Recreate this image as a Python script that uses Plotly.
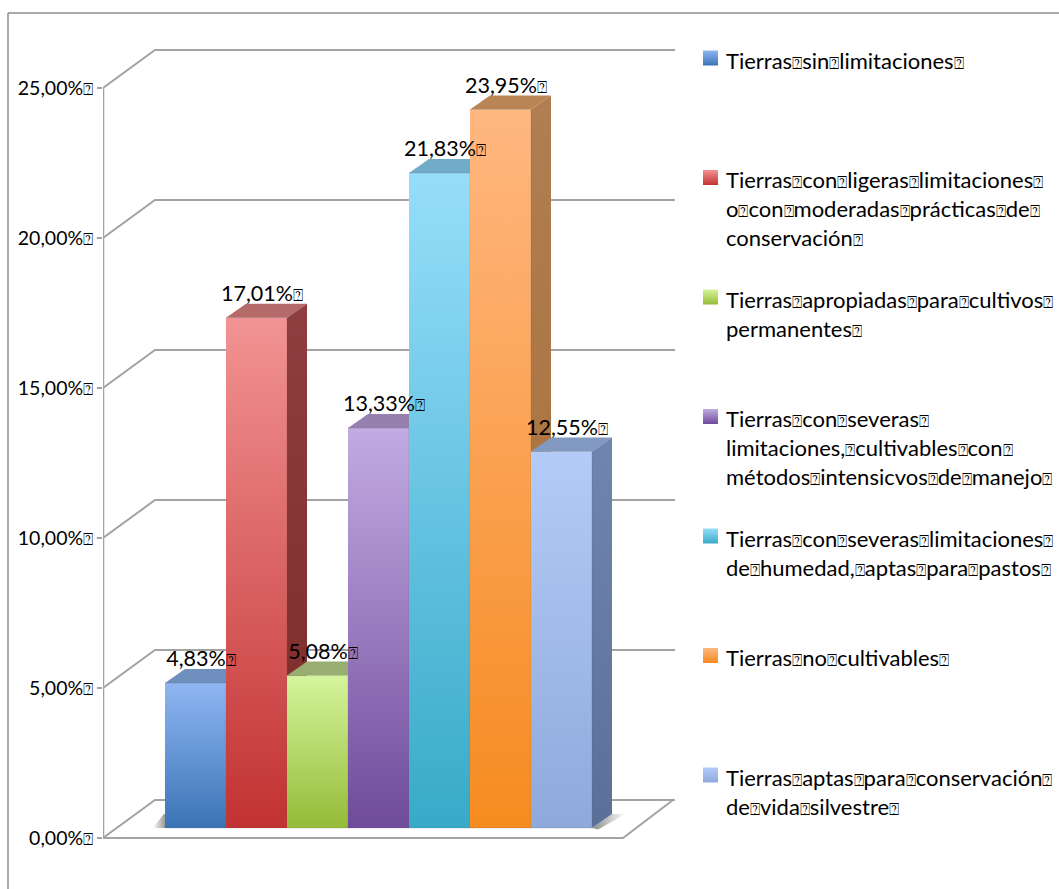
import plotly.graph_objects as go

# Land capability classes, one bar each
category_lines = [
    ["Tierras sin limitaciones"],
    ["Tierras con ligeras limitaciones", "o con moderadas prácticas de", "conservación"],
    ["Tierras apropiadas para cultivos", "permanentes"],
    ["Tierras con severas", "limitaciones, cultivables con", "métodos intensicvos de manejo"],
    ["Tierras con severas limitaciones", "de humedad, aptas para pastos"],
    ["Tierras no cultivables"],
    ["Tierras aptas para conservación", "de vida silvestre"],
]
values = [4.83, 17.01, 5.08, 13.33, 21.83, 23.95, 12.55]
value_labels = ["4,83%", "17,01%", "5,08%", "13,33%", "21,83%", "23,95%", "12,55%"]
axis_ticks = [0, 5, 10, 15, 20, 25]
axis_tick_labels = ["0,00%", "5,00%", "10,00%", "15,00%", "20,00%", "25,00%"]

# Face colours: front top, front bottom, side top, side bottom, top face
front_top = ["#8FB6F2", "#F29393", "#D6F49C", "#C2ABE2", "#96DEFA", "#FFB780", "#B3CBF7"]
front_bottom = ["#3A74B6", "#C23232", "#95BB38", "#6F4B9B", "#38AAC9", "#F68B20", "#8EA9DB"]
side_top = ["#5F7FAF", "#8E3E3E", "#7F9650", "#7D6898", "#5F9CB8", "#B07E52", "#6F86AF"]
side_bottom = ["#2F5B90", "#7C2A2A", "#6F8A2A", "#523A75", "#2C8098", "#A86C34", "#5A7099"]
top_face = ["#6F8FBF", "#B56A6A", "#98AE70", "#9680B0", "#70ACC8", "#BA8555", "#8198C0"]

W, H = 1059, 889
PLOT_L, AXIS_TOP, AXIS_BOTTOM = 103, 88, 838
PX_PER_SLOT = 61
BAR_LEFT_PX = 165
PX_PER_PCT = (AXIS_BOTTOM - AXIS_TOP) / 25
GRID = "#A3A3A3"
FONT = "Lato"
TICK_SIZE, VALUE_SIZE, LEGEND_SIZE = 19.5, 21.5, 22


def xp(px):
    """Pixel column to x-axis units (one unit is one bar slot)."""
    return (px - BAR_LEFT_PX) / PX_PER_SLOT


def yp(py):
    """Pixel row to y-axis units (percent)."""
    return (AXIS_BOTTOM - py) / PX_PER_PCT


BOX = '<span style="font-family:DejaVu Sans;font-size:17px">\u2370</span>'


def boxed(text):
    return text.replace(" ", BOX) + BOX


# Oblique projection offsets, in axis units
BAR_BASE = 10 / PX_PER_PCT
BAR_DX, BAR_DY = 20 / PX_PER_SLOT, 14 / PX_PER_PCT
WALL_DX, WALL_DY = 52 / PX_PER_SLOT, 38 / PX_PER_PCT
GRID_END = xp(675)
X0 = xp(PLOT_L)

fig = go.Figure()


def poly(xs, ys, **kw):
    fig.add_trace(go.Scatter(x=xs, y=ys, mode="lines", fill="toself", cliponaxis=False,
                             hoverinfo="skip", showlegend=False, **kw))


def vgrad(top, bottom):
    return dict(type="vertical", colorscale=[[0, bottom], [1, top]])


# Back wall and floor lines
for tick in axis_ticks:
    fig.add_trace(go.Scatter(
        x=[X0, X0 + WALL_DX, GRID_END],
        y=[tick, tick + WALL_DY, tick + WALL_DY],
        mode="lines", line=dict(color=GRID, width=2), cliponaxis=False,
        hoverinfo="skip", showlegend=False))
fig.add_trace(go.Scatter(
    x=[X0, xp(623), xp(673)], y=[0, 0, WALL_DY],
    mode="lines", line=dict(color=GRID, width=2), cliponaxis=False,
    hoverinfo="skip", showlegend=False))
# Vertical wall edge beside the tick labels
fig.add_trace(go.Scatter(
    x=[X0, X0], y=[axis_ticks[0], axis_ticks[-1]],
    mode="lines", line=dict(color=GRID, width=2.5), cliponaxis=False,
    hoverinfo="skip", showlegend=False))

# Soft floor shadow around the bar bases
n = len(values)
base = BAR_BASE
poly([-0.2, 0, 0, -0.02], [base, base, base + BAR_DY, base + BAR_DY],
     line=dict(width=0), fillgradient=dict(type="horizontal", colorscale=[[0, "#FFFFFF"], [1, "#9A9A9A"]]))
poly([n, n + BAR_DX, n + 0.55, n + 0.1], [base, base + BAR_DY, base + BAR_DY, base - 0.05],
     line=dict(width=0), fillgradient=dict(type="horizontal", colorscale=[[0, "#8A8A8A"], [1, "#FFFFFF"]]))

# Each bar: top face, side face, then the front, painted from left to right
for i, v in enumerate(values):
    l, r = float(i), float(i + 1)
    h = base + v
    poly([l, r, r + BAR_DX, l + BAR_DX], [h, h, h + BAR_DY, h + BAR_DY],
         line=dict(width=0), fillcolor=top_face[i])
    poly([r, r + BAR_DX, r + BAR_DX, r], [base, base + BAR_DY, h + BAR_DY, h],
         line=dict(width=0), fillgradient=vgrad(side_top[i], side_bottom[i]))
    poly([l, r, r, l], [base, base, h, h],
         line=dict(width=0.6, color="rgba(90,90,90,0.35)"),
         fillgradient=vgrad(front_top[i], front_bottom[i]))

# Value labels above each bar
fig.add_trace(go.Scatter(
    x=[i + 0.5 + 5.5 / PX_PER_SLOT for i in range(n)],
    y=[v + base + 22 / PX_PER_PCT for v in values],
    text=[boxed(t) for t in value_labels],
    mode="text", textposition="middle center", cliponaxis=False,
    textfont=dict(family=FONT, size=VALUE_SIZE, color="#000000"),
    hoverinfo="skip", showlegend=False))

# Legend column: evenly spaced swatches with hand-broken lines
LEG_TOP, LEG_STEP, LINE_STEP = 58, 119.5, 29
fig.add_trace(go.Scatter(
    x=[xp(710.5)] * n,
    y=[yp(LEG_TOP + LEG_STEP * i) for i in range(n)],
    mode="markers", cliponaxis=False, hoverinfo="skip", showlegend=False,
    marker=dict(symbol="square", size=15, color=front_top,
                gradient=dict(type="vertical", color=front_bottom),
                line=dict(width=0))))
annotations = []
for i, lines in enumerate(category_lines):
    for j, line in enumerate(lines):
        annotations.append(dict(
            x=xp(724), y=yp(LEG_TOP + 2 + LEG_STEP * i + LINE_STEP * j),
            xref="x", yref="y", text=boxed(line), showarrow=False,
            xanchor="left", yanchor="middle", align="left",
            font=dict(family=FONT, size=LEGEND_SIZE, color="#000000")))

# Outer frame, open at the right and bottom of the page
pw = W - PLOT_L
frame_x = [(8 - PLOT_L) / pw, (8 - PLOT_L) / pw, 1]
frame_y = [0, (H - 13) / H, (H - 13) / H]
shapes = [dict(type="line", xref="paper", yref="paper",
               x0=frame_x[k], x1=frame_x[k + 1], y0=frame_y[k], y1=frame_y[k + 1],
               line=dict(color="#8C8C8C", width=1.5)) for k in range(2)]

fig.update_layout(
    width=W, height=H, margin=dict(l=PLOT_L, r=0, t=0, b=0),
    paper_bgcolor="#FFFFFF", plot_bgcolor="#FFFFFF", showlegend=False,
    annotations=annotations, shapes=shapes,
    xaxis=dict(range=[X0, xp(W)], visible=False, fixedrange=True),
    yaxis=dict(range=[yp(H), yp(0)], tickvals=axis_ticks,
               ticktext=[boxed(t) for t in axis_tick_labels],
               showgrid=False, zeroline=False, showline=False,
               ticks="outside", ticklen=5,
               tickcolor=GRID, tickwidth=1.5,
               tickfont=dict(family=FONT, size=TICK_SIZE, color="#000000"),
               fixedrange=True),
)

fig.write_html("out.html")
